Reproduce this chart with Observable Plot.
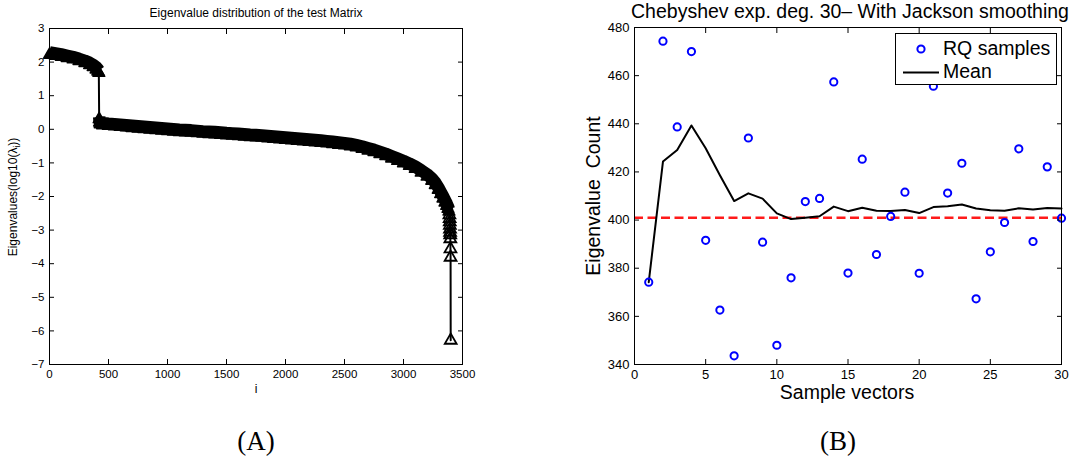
<!DOCTYPE html>
<html><head><meta charset="utf-8">
<script src="https://cdn.jsdelivr.net/npm/d3@7"></script>
<script src="https://cdn.jsdelivr.net/npm/@observablehq/plot@0.6"></script>
<style>
body{margin:0;background:#fff;}
#wrap{position:relative;width:1083px;height:458px;background:#fff;font-family:"Liberation Sans",Arial,Helvetica,sans-serif;color:#000;overflow:hidden}
.abs{position:absolute;white-space:nowrap;line-height:1}
.c{transform:translate(-50%,-50%)}
.rot{transform:translate(-50%,-50%) rotate(-90deg)}
.svgbox{position:absolute;top:0}
</style></head><body>
<div id="wrap"></div>
<script>
// ---- Panel A: eigenvalue distribution (log10) ----
const eigIndex = [1,50,100,150,200,250,300,340,370,395,410,418,
  421,424,430,450,500,550,600,650,700,750,800,850,900,950,1000,1050,1100,1150,1200,1250,1300,1350,1400,1450,1500,
  1550,1600,1650,1700,1750,1800,1850,1900,1950,2000,2050,2100,2150,2200,2250,2300,2350,2400,2450,2500,2550,
  2600,2650,2700,2750,2800,2850,2900,2950,3000,3050,3100,3150,3200,3240,3270,3295,3315,3335,3352,3366,3377,3385,
  3389,3391,3392,3393,3394,3395,3396,3397,3398,3399,3400];
const eigLog10 = [2.22,2.19,2.16,2.12,2.08,2.03,1.97,1.91,1.85,1.78,1.72,1.68,
  0.30,0.20,0.15,0.12,0.10,0.085,0.07,0.055,0.04,0.025,0.01,-0.005,-0.02,-0.035,-0.05,-0.065,-0.08,-0.09,-0.10,-0.115,-0.13,-0.14,-0.15,-0.165,-0.18,
  -0.19,-0.20,-0.215,-0.23,-0.24,-0.25,-0.265,-0.28,-0.295,-0.31,-0.325,-0.34,-0.355,-0.37,-0.385,-0.40,-0.42,-0.44,-0.46,-0.48,-0.505,
  -0.54,-0.58,-0.63,-0.68,-0.74,-0.80,-0.87,-0.94,-1.01,-1.09,-1.18,-1.29,-1.41,-1.53,-1.66,-1.80,-1.93,-2.06,-2.18,-2.28,-2.37,-2.45,
  -2.55,-2.66,-2.76,-2.86,-2.97,-3.07,-3.14,-3.26,-3.56,-3.81,-6.28];
const xTicksA = [0,500,1000,1500,2000,2500,3000,3500];
const yTicksA = [-7,-6,-5,-4,-3,-2,-1,0,1,2,3];

// ---- Panel B: Chebyshev eigenvalue count estimates ----
const sampleVec = [1,2,3,4,5,6,7,8,9,10,11,12,13,14,15,16,17,18,19,20,21,22,23,24,25,26,27,28,29,30];
const rqSamples = [374.2,474.3,438.7,470.0,391.6,362.6,343.6,434.1,390.8,348.0,376.0,407.7,409.0,457.4,378.0,
  425.3,385.7,401.5,411.6,377.9,455.6,411.2,423.6,367.3,386.8,399.0,429.6,391.1,422.1,400.8];
const meanVals = [374.2,424.3,429.1,439.3,429.8,418.6,407.9,411.1,408.9,402.8,400.4,401.0,401.6,405.6,403.7,
  405.1,403.9,403.8,404.2,402.9,405.4,405.7,406.5,404.8,404.1,403.9,404.9,404.4,405.0,404.8];
const exactCount = 401;
const xTicksB = [0,5,10,15,20,25,30];
const yTicksB = [340,360,380,400,420,440,460,480];

const FONT = '"Liberation Sans", Arial, Helvetica, sans-serif';
const wrap = document.getElementById("wrap");

const eigData = eigIndex.map((i, k) => ({i, v: eigLog10[k]}));
const rqData = sampleVec.map((s, k) => ({s, v: rqSamples[k]}));
const meanData = sampleVec.map((s, k) => ({s, v: meanVals[k]}));
// groups of the eigenvalue curve: dense clusters (drawn as solid marker bands) and the sparse tail
const cluster = d => d.i < 420 ? "top" : d.i <= 3386 ? "bulk" : "tail";

const blank = () => "";
const numFmt = d => d < 0 ? "\u2212" + Math.abs(d) : String(d);
function frameAxes(xt, yt, fs) {
  return [
    Plot.frame({stroke: "black", strokeWidth: 1}),
    Plot.axisX(xt, {anchor: "bottom", tickSize: -5, tickFormat: blank, label: null}),
    Plot.axisX(xt, {anchor: "top", tickSize: -5, tickFormat: blank, label: null}),
    Plot.axisY(yt, {anchor: "left", tickSize: -5, tickFormat: blank, label: null}),
    Plot.axisY(yt, {anchor: "right", tickSize: -5, tickFormat: blank, label: null}),
    Plot.axisX(xt, {anchor: "bottom", tickSize: 0, tickPadding: 5, fontSize: fs, fill: "black", label: null, tickFormat: numFmt}),
    Plot.axisY(yt, {anchor: "left", tickSize: 0, tickPadding: 5, fontSize: fs, fill: "black", label: null, tickFormat: numFmt})
  ];
}

const plotA = Plot.plot({
  width: 540, height: 400,
  marginLeft: 49, marginRight: 78, marginTop: 28, marginBottom: 36,
  x: {domain: [0, 3500]},
  y: {domain: [-7, 3]},
  style: {fontFamily: FONT, color: "black", background: "transparent", overflow: "visible"},
  marks: [
    Plot.line(eigData, {x: "i", y: "v", stroke: "black", strokeWidth: 2}),
    Plot.line(eigData, {filter: d => cluster(d) !== "tail", z: cluster, x: "i", y: "v", stroke: "black",
      strokeWidth: 12.5, dy: -2.3, strokeLinecap: "butt", strokeLinejoin: "round"}),
    Plot.dot(eigData, {filter: d => cluster(d) !== "tail", x: "i", y: "v", symbol: "triangle", r: 4.4,
      stroke: "black", strokeWidth: 1.5, fill: "black", strokeLinejoin: "round"}),
    Plot.dot(eigData, {filter: d => cluster(d) === "tail", x: "i", y: "v", symbol: "triangle", r: 4.4,
      stroke: "black", strokeWidth: 1.8, fill: "none"}),
    ...frameAxes(xTicksA, yTicksA, 11.5)
  ]
});
plotA.classList.add("svgbox");
plotA.style.left = "0px";
wrap.appendChild(plotA);

const plotB = Plot.plot({
  width: 523, height: 400,
  marginLeft: 74, marginRight: 22, marginTop: 27, marginBottom: 36,
  x: {domain: [0, 30]},
  y: {domain: [340, 480]},
  style: {fontFamily: FONT, color: "black", background: "transparent", overflow: "visible"},
  marks: [
    Plot.ruleY([exactCount], {stroke: "#ff1a1a", strokeWidth: 2.5, strokeDasharray: "9,4.5"}),
    Plot.line(meanData, {x: "s", y: "v", stroke: "black", strokeWidth: 2}),
    Plot.dot(rqData, {x: "s", y: "v", r: 3.6, stroke: "#0000ff", strokeWidth: 2, fill: "none"}),
    ...frameAxes(xTicksB, yTicksB, 13)
  ]
});
plotB.classList.add("svgbox");
plotB.style.left = "560px";
wrap.appendChild(plotB);

function addText(txt, x, y, size, cls, extra) {
  const d = document.createElement("div");
  d.className = "abs " + (cls || "c");
  d.style.left = x + "px"; d.style.top = y + "px";
  d.style.fontSize = size + "px";
  if (extra) Object.assign(d.style, extra);
  d.innerHTML = txt;
  wrap.appendChild(d);
  return d;
}
// Panel A texts
addText("Eigenvalue distribution of the test Matrix", 256, 13, 12);
addText("Eigenvalues(log10(λ<sub style='font-size:8.5px'>i</sub>))", 14, 197, 12, "rot");
addText("i", 256, 389, 12);
addText("(A)", 256, 441, 27, "c", {fontFamily: '"Liberation Serif","DejaVu Serif",serif'});
// Panel B texts
addText("Chebyshev exp. deg. 30– With Jackson smoothing", 850, 12, 19.5);
addText("Eigenvalue&nbsp;&nbsp;Count", 594, 196, 19.5, "rot");
addText("Sample vectors", 847, 393, 19.5);
addText("(B)", 838, 441, 27, "c", {fontFamily: '"Liberation Serif","DejaVu Serif",serif'});

// Legend (drawn over the plot, like the original)
const lg = document.createElement("div");
lg.className = "abs";
Object.assign(lg.style, {left: "895px", top: "33px", width: "160px", height: "50px", border: "1px solid #000", background: "#fff"});
lg.innerHTML = `<svg width="160" height="50" style="position:absolute;left:0;top:0">
  <circle cx="25" cy="15" r="3.6" fill="none" stroke="#0000ff" stroke-width="2"/>
  <line x1="7" x2="43" y1="38.5" y2="38.5" stroke="black" stroke-width="2"/>
</svg>`;
wrap.appendChild(lg);
addText("RQ samples", 943, 48.5, 19.5, "", {transform: "translateY(-50%)"});
addText("Mean", 943, 72, 19.5, "", {transform: "translateY(-50%)"});
</script>
</body></html>
